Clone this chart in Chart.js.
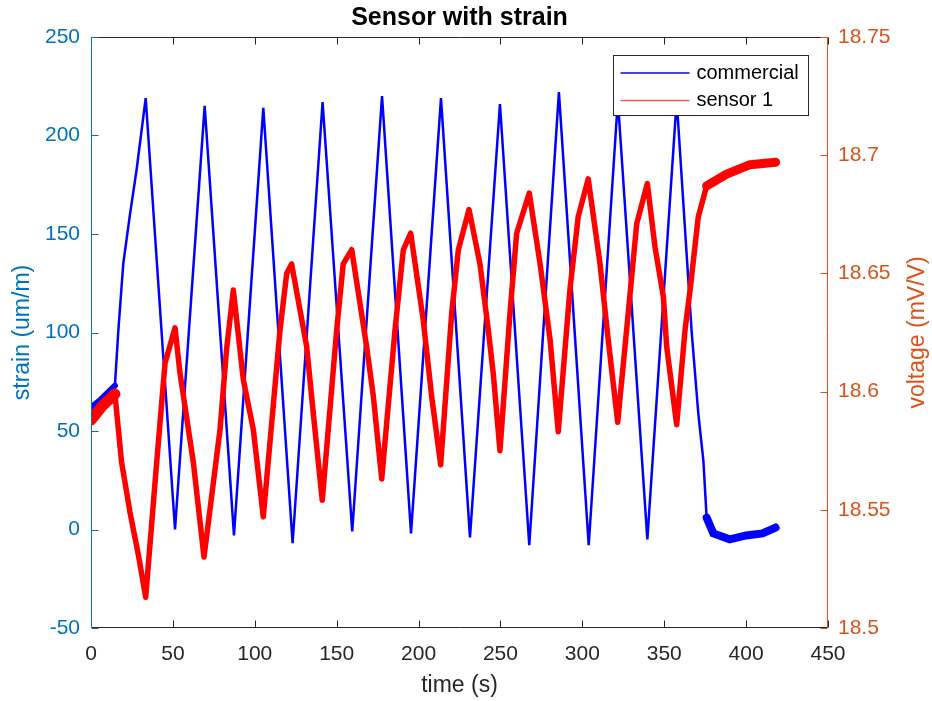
<!DOCTYPE html>
<html>
<head>
<meta charset="utf-8">
<script src="https://cdn.jsdelivr.net/npm/chart.js@4.4.1/dist/chart.umd.min.js"></script>
<style>
html,body{margin:0;padding:0;background:#fff}
#wrap{width:932px;height:701px;position:relative}
</style>
</head>
<body>
<div id="wrap"><canvas id="chart"></canvas></div>
<script>
// commercial strain gauge (left axis, um/m)
const strainTime=[0,6,14.6,16.7,19.7,23.8,27.9,33.4,51.3,69.4,87.3,105.2,123.1,141.4,159.5,177.7,195.4,213.7,231.4,249.7,267.6,285.7,303.9,321.7,339.7,357.6,366.7,370.8,373.9,375.9,380,390,400,410,418]
const strainValues=[62,66,73,101,135,160,183,219,0,215,-3,214,-7,217,-1,220,-2,219,-4,216,-8,222,-8,218,-5,218,101,59,35,6,-2,-5,-3,-2,1]

// sensor 1 (right axis, mV/V)
const voltageTime=[0,7,14.6,18.7,23.8,28.9,33.4,40.1,45.2,51.3,54.3,62.5,69,78.8,82.8,86.9,93,99.1,105.2,115.4,119.5,122.5,131.7,135.7,141.2,150,154,159.2,168.3,172.4,177.5,185.6,190.7,195.2,202.9,208,213.5,220.2,224.3,230.8,237.5,242.6,245.7,249.7,255.8,259.9,267.6,274.2,280.3,285.3,292.4,297.5,303.6,310.8,315.8,321.6,328,333.2,339.7,344.4,349.5,351.5,357.6,362.7,365.8,370.8,375.9,388.1,402.4,418]
const voltageValues=[18.588,18.594,18.599,18.570,18.549,18.531,18.513,18.570,18.612,18.627,18.608,18.570,18.530,18.584,18.618,18.643,18.605,18.584,18.547,18.626,18.650,18.654,18.619,18.591,18.554,18.626,18.654,18.660,18.619,18.598,18.563,18.626,18.660,18.667,18.630,18.598,18.569,18.633,18.660,18.677,18.654,18.626,18.607,18.575,18.633,18.667,18.684,18.654,18.622,18.583,18.643,18.674,18.690,18.654,18.622,18.587,18.633,18.671,18.688,18.661,18.640,18.619,18.586,18.626,18.643,18.674,18.687,18.692,18.696,18.697]

const timeTicks=[0,50,100,150,200,250,300,350,400,450]
const strainTicks=[-50,0,50,100,150,200,250]
const voltageTicks=[18.5,18.55,18.6,18.65,18.7,18.75]
const seriesNames=['commercial','sensor 1']

const leftColor='#0072BD'
const rightColor='#D95319'
const ink='#262626'
const font='"Liberation Sans", Arial, Helvetica, sans-serif'

function pts(xs,ys){
    return xs.map((x,i)=>({x,y:ys[i]}))
}

const frame={
    id:'frame',
    afterDraw(chart){
        const {ctx,chartArea:a,scales}=chart
        const tick=7
        const L=Math.round(a.left)+0.5, R=Math.round(a.right)-0.5
        const T=Math.round(a.top)+0.5, B=Math.round(a.bottom)-0.5
        ctx.save()
        ctx.lineWidth=1

        ctx.strokeStyle=ink
        ctx.beginPath()
        ctx.moveTo(L,T);ctx.lineTo(R,T)
        ctx.moveTo(L,B);ctx.lineTo(R,B)
        for(const t of timeTicks){
            const x=Math.round(scales.x.getPixelForValue(t))+0.5
            ctx.moveTo(x,B);ctx.lineTo(x,B-tick)
            ctx.moveTo(x,T);ctx.lineTo(x,T+tick)
        }
        ctx.stroke()

        ctx.strokeStyle=leftColor
        ctx.beginPath()
        ctx.moveTo(L,T);ctx.lineTo(L,B)
        for(const v of strainTicks){
            const y=Math.round(scales.y.getPixelForValue(v))+0.5
            ctx.moveTo(L,y);ctx.lineTo(L+tick,y)
        }
        ctx.stroke()

        ctx.strokeStyle=rightColor
        ctx.beginPath()
        ctx.moveTo(R,T);ctx.lineTo(R,B)
        for(const v of voltageTicks){
            const y=Math.round(scales.y1.getPixelForValue(v))+0.5
            ctx.moveTo(R,y);ctx.lineTo(R-tick,y)
        }
        ctx.stroke()

        // right axis title, reads bottom to top like the left one
        ctx.fillStyle=rightColor
        ctx.font='23px '+font
        ctx.textAlign='center'
        ctx.textBaseline='middle'
        ctx.translate(918,(a.top+a.bottom)/2)
        ctx.rotate(-Math.PI/2)
        ctx.fillText('voltage (mV/V)',0,0)
        ctx.restore()

        // legend box inside the axes
        ctx.save()
        const bx=Math.round(a.right)-214.5, by=Math.round(a.top)+18.5, bw=195, bh=60
        ctx.fillStyle='#fff'
        ctx.fillRect(bx,by,bw,bh)
        ctx.strokeStyle=ink
        ctx.lineWidth=1
        ctx.strokeRect(bx,by,bw,bh)
        ctx.font='20px '+font
        ctx.textAlign='left'
        ctx.textBaseline='middle'
        chart.data.datasets.forEach((ds,i)=>{
            const row=by+17.5+i*27.5
            ctx.strokeStyle=ds.legendColor
            ctx.lineWidth=1.5
            ctx.beginPath()
            ctx.moveTo(bx+7,row);ctx.lineTo(bx+76,row)
            ctx.stroke()
            ctx.fillStyle='#000'
            ctx.fillText(ds.label,bx+83,row)
        })
        ctx.restore()
    }
}

const ctx=document.getElementById('chart')
new Chart(ctx,{
    type:'line',
    data:{
        datasets:[{
            label:seriesNames[0],
            data:pts(strainTime,strainValues),
            yAxisID:'y',
            borderColor:'#0000FF',
            legendColor:'#0000FF',
            borderWidth:2.5,
            borderCapStyle:'round',
            order:2,
            segment:{
                // noisy stretches drawn as a wider band
                borderWidth:c=>c.p0.parsed.x<14?6:(c.p0.parsed.x>=375.9?8:2.5)
            }
        },{
            label:seriesNames[1],
            data:pts(voltageTime,voltageValues),
            yAxisID:'y1',
            borderColor:'#FF0000',
            legendColor:'#FF5A5A',
            borderWidth:5.5,
            borderJoinStyle:'round',
            borderCapStyle:'round',
            order:1,
            segment:{
                borderWidth:c=>c.p0.parsed.x<14?11:(c.p0.parsed.x>=375.9?9:5.5)
            }
        }]
    },
    options:{
        responsive:true,
        maintainAspectRatio:false,
        animation:false,
        devicePixelRatio:1,
        layout:{padding:0},
        elements:{point:{radius:0},line:{tension:0}},
        plugins:{
            legend:{display:false},
            tooltip:{enabled:false},
            title:{
                display:true,
                fullSize:false,
                text:'Sensor with strain',
                color:'#000',
                font:{family:font,size:25,weight:'bold'},
                padding:{top:3.5,bottom:3.5}
            }
        },
        scales:{
            x:{
                type:'linear',
                min:0,max:450,
                grid:{display:false,drawTicks:false},
                border:{display:false},
                afterBuildTicks:s=>{s.ticks=timeTicks.map(v=>({value:v}))},
                afterFit:s=>{s.height=73},
                ticks:{color:ink,padding:14,maxRotation:0,font:{family:font,size:21}},
                title:{display:true,text:'time (s)',color:ink,font:{family:font,size:23},padding:{top:0,bottom:2}}
            },
            y:{
                position:'left',
                min:-50,max:250,
                grid:{display:false,drawTicks:false},
                border:{display:false},
                afterBuildTicks:s=>{s.ticks=strainTicks.map(v=>({value:v}))},
                afterFit:s=>{s.width=91},
                ticks:{color:leftColor,padding:11,font:{family:font,size:21}},
                title:{display:true,text:'strain (um/m)',color:leftColor,font:{family:font,size:23},padding:{top:9,bottom:0}}
            },
            y1:{
                position:'right',
                min:18.5,max:18.75,
                grid:{display:false,drawTicks:false},
                border:{display:false},
                afterBuildTicks:s=>{s.ticks=voltageTicks.map(v=>({value:v}))},
                afterFit:s=>{s.width=104},
                ticks:{color:rightColor,padding:10,font:{family:font,size:21},callback:v=>String(Number(v.toFixed(2)))}
            }
        }
    },
    plugins:[frame]
})
</script>
</body>
</html>
